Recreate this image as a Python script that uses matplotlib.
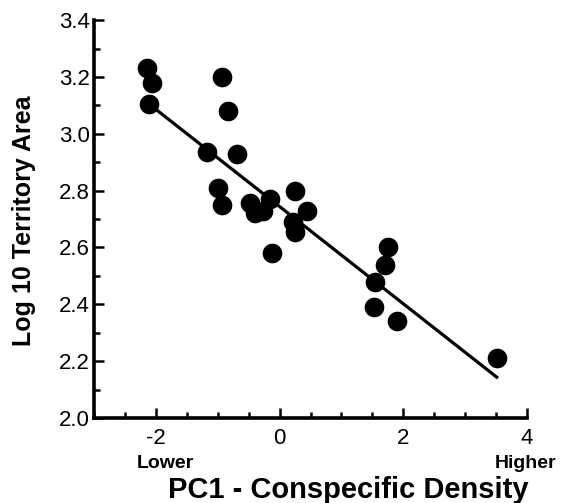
import numpy as np
import matplotlib
matplotlib.use("Agg")
import matplotlib.pyplot as plt
from matplotlib.ticker import MultipleLocator, FormatStrFormatter

plt.rcParams['font.family'] = ['Liberation Sans', 'DejaVu Sans']
plt.rcParams['axes.unicode_minus'] = False

# PC1 (conspecific density) vs log10 territory area
pc1 = [-2.14, -2.06, -2.11, -0.93, -0.83, -1.17, -0.69, -0.99, -0.93,
       -0.48, -0.40, -0.27, -0.16, -0.12, 0.25, 0.44, 0.22, 0.25,
       1.75, 1.70, 1.54, 1.53, 1.90, 3.51]
log_area = [3.23, 3.18, 3.105, 3.20, 3.08, 2.935, 2.93, 2.81, 2.75,
            2.755, 2.72, 2.73, 2.77, 2.58, 2.80, 2.73, 2.69, 2.655,
            2.60, 2.54, 2.48, 2.39, 2.34, 2.21]

# regression line as drawn in the figure
fit_intercept = 2.744
fit_slope = -0.171

fig = plt.figure(figsize=(5.61, 5.03), dpi=100)
ax = fig.add_axes([0.1676, 0.169, 0.7718, 0.791])

ax.scatter(pc1, log_area, s=200, color='black', zorder=3, linewidths=0)
xs = np.array([min(pc1), max(pc1)])
ax.plot(xs, fit_intercept + fit_slope * xs, color='black', lw=2.3, zorder=2)

ax.set_xlim(-3, 4)
ax.set_ylim(2.0, 3.4)
ax.xaxis.set_major_locator(MultipleLocator(2))
ax.xaxis.set_minor_locator(MultipleLocator(0.5))
ax.yaxis.set_major_locator(MultipleLocator(0.2))
ax.yaxis.set_minor_locator(MultipleLocator(0.1))
ax.yaxis.set_major_formatter(FormatStrFormatter('%.1f'))
ax.set_xticks([-2, 0, 2, 4])

for side in ['top', 'right']:
    ax.spines[side].set_visible(False)
for side in ['left', 'bottom']:
    ax.spines[side].set_linewidth(2.6)

ax.tick_params(which='both', direction='in', width=1.8, labelsize=16)
ax.tick_params(which='major', length=7)
ax.tick_params(which='minor', length=4)
ax.tick_params(axis='x', pad=7)
ax.tick_params(axis='y', pad=3)

fig.text(24 / 561, 1 - 221 / 503, 'Log 10 Territory Area', fontsize=18,
         fontweight='bold', rotation=90, ha='center', va='center')
fig.text(348 / 561, 1 - 490 / 503, 'PC1 - Conspecific Density', fontsize=21,
         fontweight='bold', ha='center', va='center')
fig.text(165 / 561, 1 - 463 / 503, 'Lower', fontsize=14, fontweight='bold',
         ha='center', va='center')
fig.text(526 / 561, 1 - 463 / 503, 'Higher', fontsize=14, fontweight='bold',
         ha='center', va='center')

fig.savefig('out.png', dpi=100)
